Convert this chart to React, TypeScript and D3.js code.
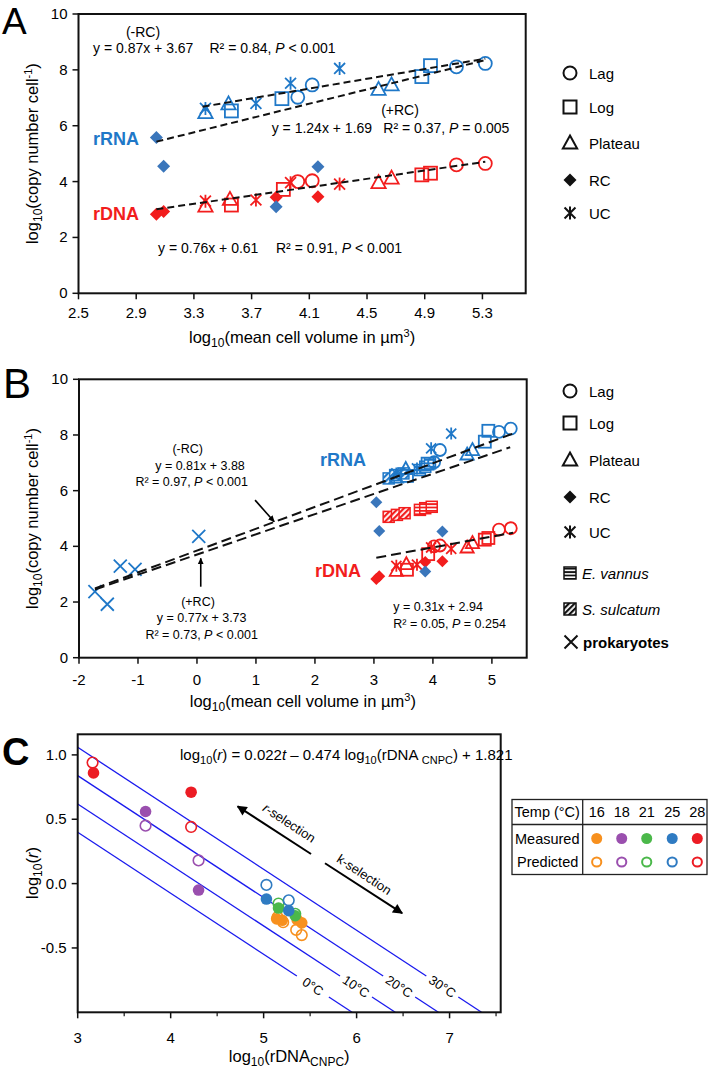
import React from 'react';
import * as d3 from 'd3';

const FONT = '"Liberation Sans", Arial, Helvetica, sans-serif';
const BLUE = '#1f78c8';
const BLUE_D = '#3a76bb';
const RED = '#f21d1d';

// ---------- Panel A/B ciliate data (x = log10 cell volume, y = log10 copies) ----------
const PHASES = ['Lag', 'Log', 'Plateau', 'RC', 'UC'];
const SHAPES: Record<string, string> = { Lag: 'circle', Log: 'square', Plateau: 'triangle', RC: 'diamond', UC: 'asterisk' };

const rRNA_Lag = [[4.02, 7.02], [4.12, 7.46], [5.12, 8.11], [5.32, 8.23]];
const rRNA_Log = [[3.56, 6.53], [3.91, 6.97], [4.88, 7.76], [4.94, 8.15]];
const rRNA_Plateau = [[3.38, 6.47], [3.54, 6.78], [4.58, 7.3], [4.67, 7.46]];
const rRNA_RC = [[3.04, 5.58], [3.09, 4.55], [3.87, 3.1], [4.16, 4.53]];
const rRNA_UC = [[3.38, 6.62], [3.73, 6.8], [3.97, 7.52], [4.31, 8.05]];

const rDNA_Lag = [[4.02, 4.0], [4.12, 4.03], [5.12, 4.6], [5.32, 4.65]];
const rDNA_Log = [[3.56, 3.16], [3.92, 3.72], [4.88, 4.24], [4.94, 4.3]];
const rDNA_Plateau = [[3.38, 3.12], [3.55, 3.36], [4.58, 3.96], [4.67, 4.12]];
const rDNA_RC = [[3.04, 2.83], [3.09, 2.93], [3.87, 3.44], [4.16, 3.46]];
const rDNA_UC = [[3.38, 3.3], [3.73, 3.34], [3.97, 3.96], [4.31, 3.91]];

const rRNA_series = [rRNA_Lag, rRNA_Log, rRNA_Plateau, rRNA_RC, rRNA_UC];
const rDNA_series = [rDNA_Lag, rDNA_Log, rDNA_Plateau, rDNA_RC, rDNA_UC];

// Panel B extra data
const prokaryotes = [[-1.73, 2.37], [-1.52, 1.92], [-1.3, 3.29], [-1.05, 3.17], [0.03, 4.36]];
const evannus_rRNA = [[3.78, 6.74], [3.87, 6.86], [3.95, 6.98]];
const evannus_rDNA = [[3.78, 5.31], [3.87, 5.37], [3.98, 5.42]];
const ssulcatum_rRNA = [[3.25, 6.44], [3.36, 6.56], [3.5, 6.62]];
const ssulcatum_rDNA = [[3.25, 5.06], [3.39, 5.13], [3.52, 5.19]];

// Fitted lines [x1, y1, x2, y2]
const fitA_minusRC = [3.36, 6.68, 5.32, 8.4];
const fitA_plusRC = [3.04, 5.43, 5.32, 8.35];
const fitA_rDNA = [3.04, 3.01, 5.32, 4.71];
const fitB_minusRC = [-1.73, 2.49, 5.37, 8.06];
const fitB_plusRC = [-1.73, 2.45, 5.31, 7.56];
const fitB_rDNA = [3.04, 3.59, 5.36, 4.49];

const ticksA_x = [2.5, 2.9, 3.3, 3.7, 4.1, 4.5, 4.9, 5.3];
const ticksAB_y = [0, 2, 4, 6, 8, 10];
const ticksB_x = [-2, -1, 0, 1, 2, 3, 4, 5];

// ---------- Panel C ----------
const tempLabels = [16, 18, 21, 25, 28];
const tempColors = ['#f7901e', '#9a4fae', '#4bb84a', '#2f7bc2', '#ec1c24'];
const measured16 = [[5.14, -0.274], [5.2, -0.285], [5.36, -0.28], [5.41, -0.305]];
const measured18 = [[3.73, 0.56], [4.3, -0.05]];
const measured21 = [[5.16, -0.19], [5.34, -0.25]];
const measured25 = [[5.03, -0.12], [5.27, -0.21]];
const measured28 = [[3.17, 0.86], [4.22, 0.71]];
const predicted16 = [[5.15, -0.26], [5.21, -0.3], [5.35, -0.36], [5.41, -0.4]];
const predicted18 = [[3.73, 0.45], [4.3, 0.18]];
const predicted21 = [[5.16, -0.155], [5.34, -0.235]];
const predicted25 = [[5.03, -0.01], [5.27, -0.13]];
const predicted28 = [[3.16, 0.94], [4.22, 0.44]];
const measuredC = [measured16, measured18, measured21, measured25, measured28];
const predictedC = [predicted16, predicted18, predicted21, predicted25, predicted28];
const isoTemps = [0, 10, 20, 30];
const coefT = 0.022, coefR = -0.474, coefI = 1.821;
const ticksC_x = [3, 4, 5, 6, 7];
const ticksC_xminor = [3.5, 4.5, 5.5, 6.5, 7.5];
const ticksC_y = [1.0, 0.5, 0.0, -0.5];

// scales
const xA = d3.scaleLinear().domain([2.5, 5.6]).range([78.5, 525.7]);
const yA = d3.scaleLinear().domain([0, 10]).range([293.3, 14]);
const xB = d3.scaleLinear().domain([-2, 5.59]).range([79, 526.7]);
const yB = d3.scaleLinear().domain([0, 10]).range([657.7, 379.3]);
const xC = d3.scaleLinear().domain([3, 7.55]).range([77.7, 500.7]);
const yC = d3.scaleLinear().domain([-1, 1.16]).range([1012.3, 734.3]);

function Marker({ shape, x, y, s, color, sw = 1.8, fillId }: any) {
  const h = s / 2;
  switch (shape) {
    case 'circle':
      return <circle cx={x} cy={y} r={h} fill="none" stroke={color} strokeWidth={sw} />;
    case 'square':
      return <rect x={x - h} y={y - h} width={s} height={s} fill="none" stroke={color} strokeWidth={sw} />;
    case 'triangle':
      return <path d={`M${x},${y - s * 0.58}L${x + s * 0.55},${y + s * 0.42}L${x - s * 0.55},${y + s * 0.42}Z`} fill="none" stroke={color} strokeWidth={sw} strokeLinejoin="miter" />;
    case 'diamond':
      return <path d={`M${x},${y - h}L${x + h},${y}L${x},${y + h}L${x - h},${y}Z`} fill={color} stroke="none" />;
    case 'asterisk': {
      const a = s * 0.42;
      return <path d={`M${x - a},${y - a}L${x + a},${y + a}M${x - a},${y + a}L${x + a},${y - a}M${x},${y - h}L${x},${y + h}`} stroke={color} strokeWidth={sw} fill="none" />;
    }
    case 'cross':
      return <path d={`M${x - h},${y - h}L${x + h},${y + h}M${x - h},${y + h}L${x + h},${y - h}`} stroke={color} strokeWidth={sw} fill="none" />;
    case 'hatch':
      return <rect x={x - h} y={y - h} width={s} height={s} fill={`url(#${fillId})`} stroke={color} strokeWidth={sw} />;
    default:
      return null;
  }
}

function Patterns() {
  const cols: [string, string][] = [['b', BLUE], ['r', RED], ['k', '#111']];
  return (
    <defs>
      {cols.map(([k, c]) => (
        <React.Fragment key={k}>
          <pattern id={`hH-${k}`} patternUnits="userSpaceOnUse" width="4" height="3.4">
            <rect width="4" height="3.4" fill="#fff" />
            <rect width="4" height="1.8" fill={c} />
          </pattern>
          <pattern id={`hD-${k}`} patternUnits="userSpaceOnUse" width="4" height="4" patternTransform="rotate(45)">
            <rect width="4" height="4" fill="#fff" />
            <rect width="2.2" height="4" fill={c} />
          </pattern>
        </React.Fragment>
      ))}
      <marker id="arrowHead" viewBox="0 0 10 10" refX="9" refY="5" markerWidth="4.2" markerHeight="4.2" orient="auto" markerUnits="strokeWidth">
        <path d="M0,0.5L10,5L0,9.5Z" fill="#000" />
      </marker>
      <marker id="arrowHeadC" viewBox="0 0 10 10" refX="9" refY="5" markerWidth="6" markerHeight="5" orient="auto" markerUnits="strokeWidth">
        <path d="M0,0L10,5L0,10Z" fill="#000" />
      </marker>
      <clipPath id="clipC">
        <rect x={xC.range()[0]} y={yC.range()[1]} width={xC.range()[1] - xC.range()[0]} height={yC.range()[0] - yC.range()[1]} />
      </clipPath>
    </defs>
  );
}

function FitLine({ seg, x, y, dash }: any) {
  return <line x1={x(seg[0])} y1={y(seg[1])} x2={x(seg[2])} y2={y(seg[3])} stroke="#111" strokeWidth={2} strokeDasharray={dash} />;
}

function Frame({ x, y }: any) {
  const [x0, x1] = x.range();
  const [y0, y1] = y.range();
  return <rect x={x0} y={y1} width={x1 - x0} height={y0 - y1} fill="none" stroke="#111" strokeWidth={2} />;
}

function CiliatePoints({ x, y, s }: any) {
  const out: any[] = [];
  const groups: [any[], string, string][] = [[rDNA_series, RED, RED], [rRNA_series, BLUE, BLUE_D]];
  groups.forEach(([series, col, dcol], gi) => {
    series.forEach((pts: number[][], si: number) => {
      const ph = PHASES[si];
      pts.forEach((p, i) => {
        out.push(<Marker key={`${gi}-${si}-${i}`} shape={SHAPES[ph]} x={x(p[0])} y={y(p[1])} s={s} color={ph === 'RC' ? dcol : col} />);
      });
    });
  });
  return <g>{out}</g>;
}

function YTicks({ x, y, ticks, fmt, fs = 15 }: any) {
  const x0 = x.range()[0];
  return (
    <g>
      {ticks.map((t: number) => (
        <g key={t}>
          <line x1={x0 - 6} x2={x0} y1={y(t)} y2={y(t)} stroke="#111" strokeWidth={1.5} />
          <text x={x0 - 11} y={y(t) + 5} textAnchor="end" fontSize={fs}>{fmt(t)}</text>
        </g>
      ))}
    </g>
  );
}

function XTicks({ x, y, ticks, fmt, dyLabel, minor = [] }: any) {
  const y0 = y.range()[0];
  return (
    <g>
      {ticks.map((t: number) => (
        <g key={t}>
          <line x1={x(t)} x2={x(t)} y1={y0} y2={y0 + 6} stroke="#111" strokeWidth={1.5} />
          <text x={x(t)} y={y0 + dyLabel} textAnchor="middle" fontSize={15}>{fmt(t)}</text>
        </g>
      ))}
      {minor.map((t: number) => (
        <line key={'m' + t} x1={x(t)} x2={x(t)} y1={y0} y2={y0 + 4} stroke="#111" strokeWidth={1.2} />
      ))}
    </g>
  );
}

function XLabelVolume({ cx, y }: any) {
  return (
    <text x={cx} y={y} textAnchor="middle" fontSize={16.5}>
      log<tspan fontSize={12} dy={4}>10</tspan>
      <tspan dy={-4}>(mean cell volume in µm</tspan>
      <tspan fontSize={11} dy={-6}>3</tspan>
      <tspan dy={6}>)</tspan>
    </text>
  );
}

function YLabelCopy({ cx, cy }: any) {
  return (
    <text transform={`translate(${cx},${cy}) rotate(-90)`} textAnchor="middle" fontSize={16.5}>
      log<tspan fontSize={12} dy={4}>10</tspan>
      <tspan dy={-4}>(copy number cell</tspan>
      <tspan fontSize={11} dy={-6}>-1</tspan>
      <tspan dy={6}>)</tspan>
    </text>
  );
}

function LegendAB({ ys, extra }: any) {
  const items = PHASES.map((p) => ({ label: p, shape: SHAPES[p] }));
  return (
    <g>
      {items.map((it, i) => (
        <g key={it.label}>
          <Marker shape={it.shape} x={570} y={ys[i]} s={13} color="#111" sw={2} />
          <text x={589} y={ys[i] + 5.5} fontSize={15}>{it.label}</text>
        </g>
      ))}
      {extra && (
        <g>
          <Marker shape="hatch" x={570} y={ys[5]} s={12} color="#111" fillId="hH-k" sw={1.5} />
          <text x={582} y={ys[5] + 5.5} fontSize={15} fontStyle="italic">E. vannus</text>
          <Marker shape="hatch" x={570} y={ys[6]} s={12} color="#111" fillId="hD-k" sw={1.5} />
          <text x={582} y={ys[6] + 5.5} fontSize={15} fontStyle="italic">S. sulcatum</text>
          <Marker shape="cross" x={571} y={ys[7]} s={13} color="#111" sw={2} />
          <text x={583} y={ys[7] + 5.5} fontSize={15} fontWeight="bold">prokaryotes</text>
        </g>
      )}
    </g>
  );
}

function PanelA() {
  const cx = (xA.range()[0] + xA.range()[1]) / 2;
  return (
    <g>
      <text x={2} y={34} fontSize={37}>A</text>
      <CiliatePoints x={xA} y={yA} s={13} />
      <FitLine seg={fitA_minusRC} x={xA} y={yA} dash="7,4" />
      <FitLine seg={fitA_plusRC} x={xA} y={yA} dash="7,4" />
      <FitLine seg={fitA_rDNA} x={xA} y={yA} dash="7,4" />
      <Frame x={xA} y={yA} />
      <YTicks x={xA} y={yA} ticks={ticksAB_y} fmt={(v: number) => String(v)} />
      <XTicks x={xA} y={yA} ticks={ticksA_x} fmt={(v: number) => v.toFixed(1)} dyLabel={25} />
      <XLabelVolume cx={cx} y={343} />
      <YLabelCopy cx={38} cy={153.6} />
      <g fontSize={14}>
        <text x={143} y={37} textAnchor="middle">(-RC)</text>
        <text x={93} y={53}>y = 0.87x + 3.67</text>
        <text x={209.5} y={53}>R² = 0.84, <tspan fontStyle="italic">P</tspan> &lt; 0.001</text>
        <text x={400} y={115} textAnchor="middle">(+RC)</text>
        <text x={271.7} y={133}>y = 1.24x + 1.69</text>
        <text x={383.3} y={133}>R² = 0.37, <tspan fontStyle="italic">P</tspan> = 0.005</text>
        <text x={158} y={253}>y = 0.76x + 0.61</text>
        <text x={276} y={253}>R² = 0.91, <tspan fontStyle="italic">P</tspan> &lt; 0.001</text>
      </g>
      <text x={93} y={144.5} fontSize={18} fontWeight="bold" fill={BLUE}>rRNA</text>
      <text x={93} y={220} fontSize={18} fontWeight="bold" fill={RED}>rDNA</text>
      <LegendAB ys={[73, 107, 143, 180, 213]} />
    </g>
  );
}

function PanelB() {
  const cx = (xB.range()[0] + xB.range()[1]) / 2;
  const hatchPts: [number[][], string, string][] = [
    [ssulcatum_rDNA, RED, 'hD-r'],
    [evannus_rDNA, RED, 'hH-r'],
    [ssulcatum_rRNA, BLUE, 'hD-b'],
    [evannus_rRNA, BLUE, 'hH-b'],
  ];
  return (
    <g>
      <text x={3} y={398} fontSize={42}>B</text>
      {hatchPts.map(([pts, col, id], gi) =>
        pts.map((p, i) => <Marker key={`h${gi}-${i}`} shape="hatch" x={xB(p[0])} y={yB(p[1])} s={11} color={col} fillId={id} sw={1.5} />)
      )}
      <CiliatePoints x={xB} y={yB} s={12} />
      {prokaryotes.map((p, i) => (
        <Marker key={'p' + i} shape="cross" x={xB(p[0])} y={yB(p[1])} s={13} color={BLUE} sw={1.8} />
      ))}
      <FitLine seg={fitB_minusRC} x={xB} y={yB} dash="10,5" />
      <FitLine seg={fitB_plusRC} x={xB} y={yB} dash="10,5" />
      <FitLine seg={fitB_rDNA} x={xB} y={yB} dash="10,5" />
      <Frame x={xB} y={yB} />
      <YTicks x={xB} y={yB} ticks={ticksAB_y} fmt={(v: number) => String(v)} />
      <XTicks x={xB} y={yB} ticks={ticksB_x} fmt={(v: number) => String(v)} dyLabel={27} />
      <XLabelVolume cx={cx} y={707} />
      <YLabelCopy cx={38} cy={518.5} />
      <g fontSize={12.5} textAnchor="middle">
        <text x={187.7} y={452.5}>(-RC)</text>
        <text x={200} y={469.5}>y = 0.81x + 3.88</text>
        <text x={191.7} y={486}>R² = 0.97, <tspan fontStyle="italic">P</tspan> &lt; 0.001</text>
        <text x={198} y={606}>(+RC)</text>
        <text x={201.7} y={622}>y = 0.77x + 3.73</text>
        <text x={201.7} y={638.5}>R² = 0.73, <tspan fontStyle="italic">P</tspan> &lt; 0.001</text>
      </g>
      <g fontSize={12.5}>
        <text x={393.3} y={611}>y = 0.31x + 2.94</text>
        <text x={393.3} y={627.5}>R² = 0.05, <tspan fontStyle="italic">P</tspan> = 0.254</text>
      </g>
      <line x1={xB(0.985)} y1={yB(5.66)} x2={xB(1.31)} y2={yB(4.88)} stroke="#000" strokeWidth={1.6} markerEnd="url(#arrowHead)" />
      <line x1={xB(0.064)} y1={yB(2.55)} x2={xB(0.064)} y2={yB(3.57)} stroke="#000" strokeWidth={1.6} markerEnd="url(#arrowHead)" />
      <text x={320} y={466} fontSize={18} fontWeight="bold" fill={BLUE}>rRNA</text>
      <text x={315} y={576.5} fontSize={18} fontWeight="bold" fill={RED}>rDNA</text>
      <LegendAB ys={[391, 423, 460, 497, 532, 573, 609, 642]} extra />
    </g>
  );
}

function PanelC() {
  const cx = (xC.range()[0] + xC.range()[1]) / 2;
  const ang = (Math.atan((-coefR * (yC(0) - yC(1))) / (xC(1) - xC(0))) * 180) / Math.PI;
  const gap = 16 / (xC(1) - xC(0));
  const iso = isoTemps.map((t) => {
    const f = (x: number) => coefT * t + coefR * x + coefI;
    const xEnd = (coefT * t + coefI + 1) / -coefR;
    const xLab = (coefT * t + coefI + 0.8) / -coefR;
    return { t, f, xEnd, xLab };
  });
  // table geometry
  const tx0 = 512, ty0 = 799.5, tw = 195, th = 75, tdiv = 582.7, thead = 824.5;
  const colX = [596.7, 621.7, 646.7, 672.2, 697.3];
  return (
    <g>
      <text x={2} y={765} fontSize={38} fontWeight="bold">C</text>
      <g clipPath="url(#clipC)">
        {iso.map(({ t, f, xEnd, xLab }) => (
          <g key={t}>
            <line x1={xC(3)} y1={yC(f(3))} x2={xC(xLab - gap)} y2={yC(f(xLab - gap))} stroke="#1a1aee" strokeWidth={1.3} />
            <line x1={xC(xLab + gap)} y1={yC(f(xLab + gap))} x2={xC(xEnd)} y2={yC(f(xEnd))} stroke="#1a1aee" strokeWidth={1.3} />
          </g>
        ))}
      </g>
      {iso.map(({ t, xLab }) => (
        <text key={'l' + t} transform={`translate(${xC(xLab)},${yC(-0.8)}) rotate(${ang})`} textAnchor="middle" dy={4.5} fontSize={13}>{t}°C</text>
      ))}
      {predictedC.map((pts, ci) =>
        pts.map((p, i) => <circle key={`pc${ci}-${i}`} cx={xC(p[0])} cy={yC(p[1])} r={5.3} fill="none" stroke={tempColors[ci]} strokeWidth={1.6} />)
      )}
      {measuredC.map((pts, ci) =>
        pts.map((p, i) => <circle key={`mc${ci}-${i}`} cx={xC(p[0])} cy={yC(p[1])} r={5.8} fill={tempColors[ci]} />)
      )}
      <Frame x={xC} y={yC} />
      <YTicks x={xC} y={yC} ticks={ticksC_y} fmt={(v: number) => v.toFixed(1)} />
      <XTicks x={xC} y={yC} ticks={ticksC_x} fmt={(v: number) => String(v)} dyLabel={31} minor={ticksC_xminor} />
      <text x={cx} y={1062} textAnchor="middle" fontSize={16.5}>
        log<tspan fontSize={12} dy={4}>10</tspan>
        <tspan dy={-4}>(rDNA</tspan>
        <tspan fontSize={12} dy={4}>CNPC</tspan>
        <tspan dy={-4}>)</tspan>
      </text>
      <text transform={`translate(38,873) rotate(-90)`} textAnchor="middle" fontSize={16.5}>
        log<tspan fontSize={12} dy={4}>10</tspan>
        <tspan dy={-4}>(</tspan>
        <tspan fontStyle="italic">r</tspan>)
      </text>
      <text x={180} y={760} fontSize={15}>
        log<tspan fontSize={11} dy={4}>10</tspan>
        <tspan dy={-4}>(</tspan><tspan fontStyle="italic">r</tspan>) = 0.022<tspan fontStyle="italic">t</tspan> – 0.474 log
        <tspan fontSize={11} dy={4}>10</tspan>
        <tspan dy={-4}>(rDNA </tspan>
        <tspan fontSize={11} dy={4}>CNPC</tspan>
        <tspan dy={-4}>) + 1.821</tspan>
      </text>
      <line x1={xC(5.51)} y1={yC(0.23)} x2={xC(4.72)} y2={yC(0.6)} stroke="#000" strokeWidth={2} markerEnd="url(#arrowHeadC)" />
      <line x1={xC(5.66)} y1={yC(0.158)} x2={xC(6.49)} y2={yC(-0.23)} stroke="#000" strokeWidth={2} markerEnd="url(#arrowHeadC)" />
      <text transform={`translate(286.7,826.7) rotate(${ang})`} textAnchor="middle" fontSize={13}>
        <tspan fontStyle="italic">r</tspan>-selection
      </text>
      <text transform={`translate(361.7,878.3) rotate(${ang})`} textAnchor="middle" fontSize={13}>k-selection</text>
      {/* legend table */}
      <rect x={tx0} y={ty0} width={tw} height={th} fill="#fff" stroke="#222" strokeWidth={1.3} />
      <line x1={tx0} x2={tx0 + tw} y1={thead} y2={thead} stroke="#222" strokeWidth={1.3} />
      <line x1={tdiv} x2={tdiv} y1={ty0} y2={ty0 + th} stroke="#222" strokeWidth={1.3} />
      <g fontSize={14.5}>
        <text x={514.5} y={817}>Temp (°C)</text>
        <text x={515} y={843.5}>Measured</text>
        <text x={517} y={867}>Predicted</text>
        {tempLabels.map((t, i) => (
          <text key={t} x={colX[i]} y={817} textAnchor="middle">{t}</text>
        ))}
      </g>
      {tempColors.map((c, i) => (
        <g key={c}>
          <circle cx={colX[i]} cy={838.5} r={5.5} fill={c} />
          <circle cx={colX[i]} cy={862} r={4.6} fill="none" stroke={c} strokeWidth={2} />
        </g>
      ))}
    </g>
  );
}

export default function App() {
  return (
    <svg width={714} height={1069} viewBox="0 0 714 1069" style={{ position: 'absolute', left: 0, top: 0, background: '#fff' }} fontFamily={FONT}>
      <Patterns />
      <rect width={714} height={1069} fill="#fff" />
      <PanelA />
      <PanelB />
      <PanelC />
    </svg>
  );
}
